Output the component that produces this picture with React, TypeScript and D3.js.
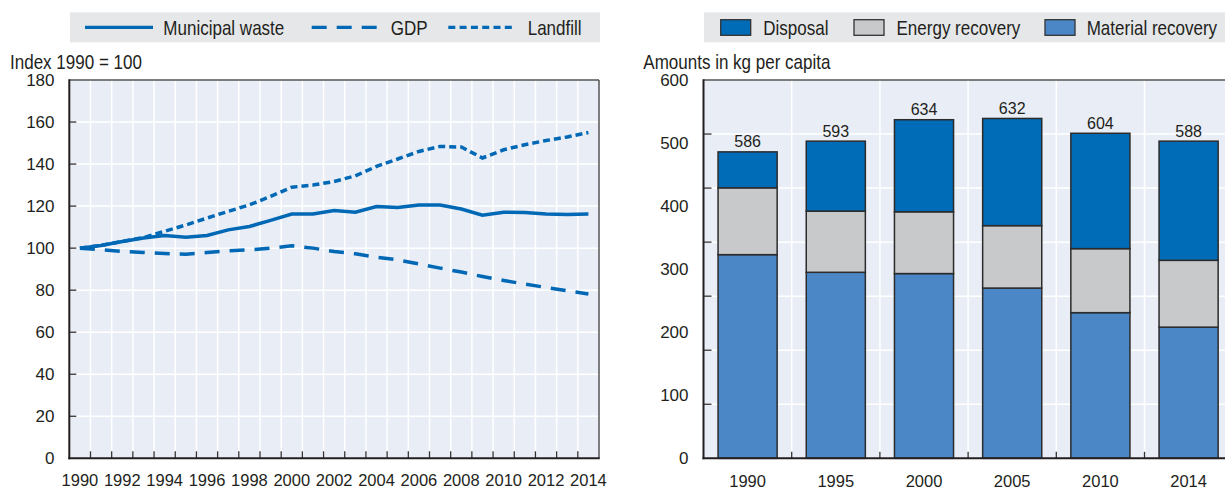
import React from "react";
import * as d3 from "d3";

const years = d3.range(1990, 2015);
const municipalWaste = [100, 101.3, 103.2, 104.8, 106, 105.2, 106, 108.7, 110.3, 113.2, 116.2, 116.2, 117.9, 117.1, 119.8, 119.3, 120.5, 120.5, 118.6, 115.7, 117.1, 117, 116.2, 116, 116.2];
const gdp = [100, 99.2, 98.4, 97.9, 97.4, 97.1, 97.9, 98.7, 99.2, 100, 101.1, 100, 98.4, 97.3, 95.7, 94.4, 92.5, 90.5, 88.6, 86.5, 84.6, 82.9, 81.3, 79.7, 78.2];
const landfill = [100, 101.3, 103.2, 105, 108, 111, 114.3, 117.5, 120.6, 124.6, 129, 130, 131.7, 134.4, 138.9, 142.4, 146, 148.4, 148.1, 142.9, 146.8, 149.2, 151.2, 152.9, 155];
const leftYTicks = [0, 20, 40, 60, 80, 100, 120, 140, 160, 180];
const leftXLabels = [1990, 1992, 1994, 1996, 1998, 2000, 2002, 2004, 2006, 2008, 2010, 2012, 2014];

const barYears = ["1990", "1995", "2000", "2005", "2010", "2014"];
const materialRecovery = [323, 295, 293, 270, 231, 208];
const energyRecovery = [106, 97, 98, 99, 101.5, 106];
const disposal = [57, 111, 146, 170, 183, 189];
const totals = [586, 593, 634, 632, 604, 588];
const rightYTicks = [0, 100, 200, 300, 400, 500, 600];
const rightGridCount = 7;

const BLUE = "#0068b5";
const C_DISP = "#006bb6";
const C_ENER = "#c8c9cb";
const C_MAT = "#4b87c6";
const PLOT_BG = "#e9edf6";
const LEG_BG = "#e6e7e9";
const TXT = "#231f20";
const REG = "'Liberation Sans', Arial, Helvetica, sans-serif";

function NText({ x, y, children, size = 20.5, sx = 0.83 }: { x: number; y: number; children: any; size?: number; sx?: number }) {
  return (
    <text transform={`translate(${x},${y}) scale(${sx},1)`} fontFamily={REG} fontSize={size} fill={TXT}>
      {children}
    </text>
  );
}

export default function App() {
  const L = { x0: 69.3, x1: 599, y0: 80, y1: 458.3 };
  const R = { x0: 703.5, x1: 1232.7, y0: 80, y1: 458.3 };

  const xL = d3.scalePoint<number>().domain(years).range([L.x0, L.x1]).padding(0.5);
  const stepL = xL.step();
  const yL = d3.scaleLinear().domain([0, 180]).range([L.y1, L.y0]);
  const lineGen = (vals: number[]) =>
    d3.line<number>().x((_, i) => xL(years[i]) as number).y((v) => yL(v))(vals) as string;

  const xR = d3.scaleBand<string>().domain(barYears).range([R.x0, R.x1]).paddingInner(0.33).paddingOuter(0.165);
  const stepR = xR.step();
  const yR = d3.scaleLinear().domain([0, 600]).range([R.y1, R.y0]);
  const gridR = d3.range(1, rightGridCount).map((i) => yR((600 * i) / rightGridCount));
  const boundary = (b: string) => (xR(b) as number) - stepR * 0.165 + stepR;

  const stackData = barYears.map((y, i) => ({ year: y, material: materialRecovery[i], energy: energyRecovery[i], disposal: disposal[i] }));
  const stack = d3.stack<any>().keys(["material", "energy", "disposal"])(stackData);
  const colors: Record<string, string> = { material: C_MAT, energy: C_ENER, disposal: C_DISP };

  return (
    <svg width={1225} height={490} style={{ position: "absolute", left: 0, top: 0, display: "block" }}>
      <rect x={0} y={0} width={1225} height={490} fill="#fff" />
      {/* LEFT LEGEND */}
      <rect x={70} y={12.3} width={530} height={30} fill={LEG_BG} />
      <line x1={85} x2={153} y1={27.3} y2={27.3} stroke={BLUE} strokeWidth={3.3} />
      <NText x={163.3} y={34.5}>Municipal waste</NText>
      <line x1={311.7} x2={378.3} y1={27.3} y2={27.3} stroke={BLUE} strokeWidth={3.3} strokeDasharray="15,10" />
      <NText x={390.7} y={34.5}>GDP</NText>
      <line x1={448.3} x2={512} y1={27.3} y2={27.3} stroke={BLUE} strokeWidth={3.3} strokeDasharray="7,4.3" />
      <NText x={527.7} y={34.5}>Landfill</NText>

      <NText x={10} y={69}>Index 1990 = 100</NText>

      {/* LEFT PLOT */}
      <rect x={L.x0} y={L.y0} width={L.x1 - L.x0} height={L.y1 - L.y0} fill={PLOT_BG} />
      {leftYTicks.slice(1, -1).map((t) => (
        <line key={"hg" + t} x1={L.x0} x2={L.x1} y1={yL(t)} y2={yL(t)} stroke="#fff" strokeWidth={1.5} />
      ))}
      {years.slice(0, -1).map((yr) => (
        <line key={"vg" + yr} x1={(xL(yr) as number) + stepL / 2} x2={(xL(yr) as number) + stepL / 2} y1={L.y0} y2={L.y1} stroke="#fff" strokeWidth={1.5} />
      ))}
      {years.slice(0, -1).map((yr) => (
        <line key={"vt" + yr} x1={(xL(yr) as number) + stepL / 2} x2={(xL(yr) as number) + stepL / 2} y1={L.y1} y2={L.y1 - 7} stroke="#333" strokeWidth={1.3} />
      ))}
      {leftYTicks.slice(1, -1).map((t) => (
        <line key={"ht" + t} x1={L.x0} x2={L.x0 + 7} y1={yL(t)} y2={yL(t)} stroke="#333" strokeWidth={1.3} />
      ))}
      <path d={lineGen(gdp)} fill="none" stroke={BLUE} strokeWidth={3.5} strokeDasharray="15,10" />
      <path d={lineGen(landfill)} fill="none" stroke={BLUE} strokeWidth={3.5} strokeDasharray="7,4" />
      <path d={lineGen(municipalWaste)} fill="none" stroke={BLUE} strokeWidth={3.5} />
      <line x1={L.x0} x2={L.x1} y1={L.y0} y2={L.y0} stroke="#555" strokeWidth={1.5} />
      <line x1={L.x1} x2={L.x1} y1={L.y0} y2={L.y1} stroke="#555" strokeWidth={1.5} />
      <line x1={L.x0} x2={L.x0} y1={L.y0 - 0.75} y2={L.y1 + 1} stroke={TXT} strokeWidth={2} />
      <line x1={L.x0 - 1} x2={L.x1 + 0.75} y1={L.y1} y2={L.y1} stroke={TXT} strokeWidth={2} />
      {leftYTicks.map((t) => (
        <text key={"yl" + t} x={54.5} y={yL(t)} dy="0.36em" textAnchor="end" fontFamily={REG} fontSize={17} fill={TXT}>{t}</text>
      ))}
      {leftXLabels.map((yr) => (
        <text key={"xl" + yr} x={xL(yr) as number} y={486} textAnchor="middle" fontFamily={REG} fontSize={16.5} fill={TXT}>{yr}</text>
      ))}

      {/* RIGHT LEGEND */}
      <rect x={704} y={12.3} width={530} height={30} fill={LEG_BG} />
      <rect x={720.7} y={19.7} width={30} height={15.6} fill={C_DISP} stroke="#333" strokeWidth={1.3} />
      <NText x={763.3} y={34.5}>Disposal</NText>
      <rect x={854} y={19.7} width={30} height={15.6} fill={C_ENER} stroke="#333" strokeWidth={1.3} />
      <NText x={896.5} y={34.5}>Energy recovery</NText>
      <rect x={1045} y={19.7} width={30} height={15.6} fill={C_MAT} stroke="#333" strokeWidth={1.3} />
      <NText x={1086.7} y={34.5}>Material recovery</NText>

      <NText x={643.3} y={69}>Amounts in kg per capita</NText>

      {/* RIGHT PLOT */}
      <rect x={R.x0} y={R.y0} width={R.x1 - R.x0} height={R.y1 - R.y0} fill={PLOT_BG} />
      {gridR.map((g, i) => (
        <line key={"rg" + i} x1={R.x0} x2={R.x1} y1={g} y2={g} stroke="#fff" strokeWidth={1.5} />
      ))}
      {barYears.slice(0, -1).map((b) => (
        <line key={"rv" + b} x1={boundary(b)} x2={boundary(b)} y1={R.y0} y2={R.y1} stroke="#fff" strokeWidth={1.5} />
      ))}
      {barYears.slice(0, -1).map((b) => (
        <line key={"rvt" + b} x1={boundary(b)} x2={boundary(b)} y1={R.y1} y2={R.y1 - 6.5} stroke="#333" strokeWidth={1.3} />
      ))}
      {gridR.map((g, i) => (
        <line key={"rt" + i} x1={R.x0} x2={R.x0 + 8} y1={g} y2={g} stroke="#333" strokeWidth={1.3} />
      ))}
      {stack.map((layer) =>
        layer.map((d, i) => (
          <rect key={layer.key + i} x={xR(barYears[i]) as number} y={yR(d[1])} width={xR.bandwidth()} height={yR(d[0]) - yR(d[1])} fill={colors[layer.key]} stroke="#2b2b2b" strokeWidth={1.5} />
        ))
      )}
      {totals.map((t, i) => (
        <text key={"tot" + i} x={(xR(barYears[i]) as number) + xR.bandwidth() / 2} y={yR(materialRecovery[i] + energyRecovery[i] + disposal[i]) - 4.5} textAnchor="middle" fontFamily={REG} fontSize={16} fill={TXT}>{t}</text>
      ))}
      <line x1={R.x0} x2={R.x1} y1={R.y0} y2={R.y0} stroke="#555" strokeWidth={1.5} />
      <line x1={R.x0} x2={R.x0} y1={R.y0 - 0.75} y2={R.y1 + 1} stroke={TXT} strokeWidth={2} />
      <line x1={R.x0 - 1} x2={R.x1} y1={R.y1} y2={R.y1} stroke={TXT} strokeWidth={2} />
      {rightYTicks.map((t) => (
        <text key={"ryl" + t} x={688.5} y={yR(t)} dy="0.36em" textAnchor="end" fontFamily={REG} fontSize={17} fill={TXT}>{t}</text>
      ))}
      {barYears.map((b) => (
        <text key={"rxl" + b} x={(xR(b) as number) + xR.bandwidth() / 2} y={486.5} textAnchor="middle" fontFamily={REG} fontSize={16.5} fill={TXT}>{b}</text>
      ))}
    </svg>
  );
}
